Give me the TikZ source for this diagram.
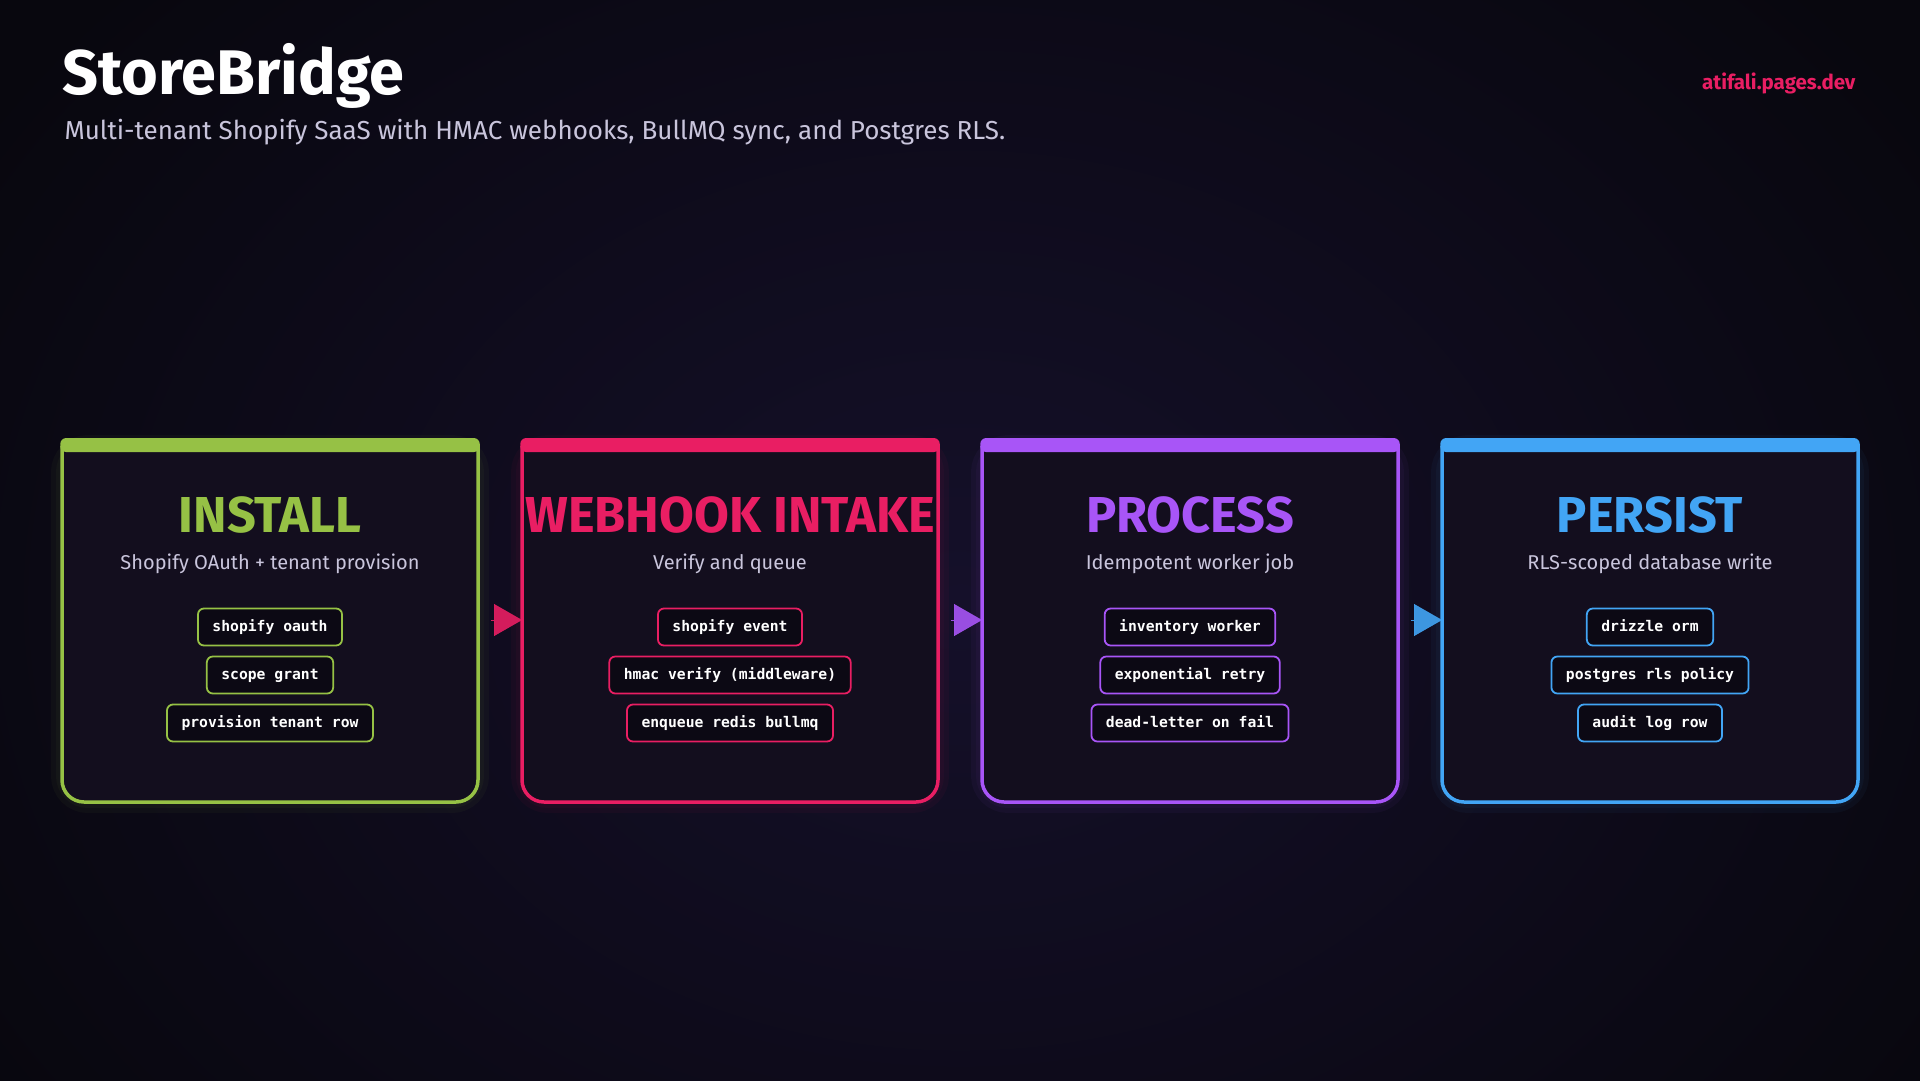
\documentclass[tikz,border=0pt]{standalone}
\usepackage{fontspec}
\setmainfont{Fira Sans}
\newfontfamily\chipfont{DejaVu Sans Mono}
\usepackage{tikz}
\usetikzlibrary{positioning, calc, arrows.meta}

\definecolor{bgedge}{HTML}{08070E}
\definecolor{bgmid}{HTML}{15102A}
\definecolor{cardbg}{HTML}{130E1E}
\definecolor{chipbg}{HTML}{0C0914}
\definecolor{subtext}{HTML}{C9C5DC}
\definecolor{stgreen}{HTML}{96C145}
\definecolor{stpink}{HTML}{E91E63}
\definecolor{stpurple}{HTML}{A855F7}
\definecolor{stblue}{HTML}{42A5F5}

\begin{document}
\begin{tikzpicture}[x=1pt,y=1pt,yscale=-1,xscale=1,
    card/.style={minimum width=416pt, minimum height=356pt, inner sep=0pt, outer sep=0pt},
    cardbody/.style={fill=cardbg, rounded corners=22pt},
    cardline/.style={line width=3.5pt, rounded corners=22pt},
    glow/.style={line width=#1, draw opacity=0.045, rounded corners=26pt},
    stagetitle/.style={anchor=base, font=\bfseries\fontsize{50.5}{58}\selectfont},
    stagesub/.style={anchor=base, text=subtext, font=\fontsize{20}{24}\selectfont},
    chip/.style={line width=1.8pt, rounded corners=6pt, fill=chipbg, text=white, minimum height=37pt, inner xsep=14.5pt, inner ysep=0pt, text height=11pt, text depth=3pt, font=\chipfont\bfseries\fontsize{14.7}{16}\selectfont},
    flow/.style={-{Triangle[length=28pt,width=32pt]}, line width=0.4pt, shorten <=13pt, draw opacity=0.9, fill opacity=0.9}]
        \useasboundingbox (0,0) rectangle (1920,1080);
        \fill[bgedge] (0,0) rectangle (1920,1080);
        \shade[inner color=bgmid, outer color=bgedge] (-200,-300) rectangle (2120,1500);

        \draw (59,94) node [anchor=base west, text=white, font=\bfseries\fontsize{63}{72}\selectfont] (brand) {StoreBridge};
        \draw (61,139) node [anchor=base west, text=subtext, font=\fontsize{26}{30}\selectfont] (tagline) {Multi-tenant Shopify SaaS with HMAC webhooks, BullMQ sync, and Postgres RLS.};
        \draw (1859,89) node [anchor=base east, text=stpink, font=\bfseries\fontsize{20.5}{24}\selectfont] (site) {atifali.pages.dev};

        \node[card] (install) at (270,624) {};
        \draw[glow=22pt, stgreen] (install.north west) rectangle (install.south east);
        \draw[glow=12pt, stgreen] (install.north west) rectangle (install.south east);
        \fill[cardbody] (install.north west) rectangle (install.south east);
        \fill[cardbg] (install.north west) rectangle (install.east);
        \draw[cardline, stgreen] (install.north west) -- (install.south west) -- (install.south east) -- (install.north east);
        \fill[stgreen, rounded corners=6pt] ($(install.north west)+(-1.75,-8)$) rectangle ($(install.north east)+(1.75,6)$);
        \node[stagetitle, text=stgreen] (installtitle) at (270,532) {INSTALL};
        \node[stagesub] (installsub) at (270,569) {Shopify OAuth + tenant provision};
        \node[chip, draw=stgreen] (oauth) at (270,627) {shopify oauth};
        \node[chip, draw=stgreen] (scope) at (270,675) {scope grant};
        \node[chip, draw=stgreen] (tenantrow) at (270,723) {provision tenant row};

        \node[card] (webhook) at (730,624) {};
        \draw[glow=22pt, stpink] (webhook.north west) rectangle (webhook.south east);
        \draw[glow=12pt, stpink] (webhook.north west) rectangle (webhook.south east);
        \fill[cardbody] (webhook.north west) rectangle (webhook.south east);
        \fill[cardbg] (webhook.north west) rectangle (webhook.east);
        \draw[cardline, stpink] (webhook.north west) -- (webhook.south west) -- (webhook.south east) -- (webhook.north east);
        \fill[stpink, rounded corners=6pt] ($(webhook.north west)+(-1.75,-8)$) rectangle ($(webhook.north east)+(1.75,6)$);
        \node[stagetitle, text=stpink] (webhooktitle) at (730,532) {WEBHOOK INTAKE};
        \node[stagesub] (webhooksub) at (730,569) {Verify and queue};
        \node[chip, draw=stpink] (event) at (730,627) {shopify event};
        \node[chip, draw=stpink] (hmac) at (730,675) {hmac verify (middleware)};
        \node[chip, draw=stpink] (enqueue) at (730,723) {enqueue redis bullmq};

        \node[card] (process) at (1190,624) {};
        \draw[glow=22pt, stpurple] (process.north west) rectangle (process.south east);
        \draw[glow=12pt, stpurple] (process.north west) rectangle (process.south east);
        \fill[cardbody] (process.north west) rectangle (process.south east);
        \fill[cardbg] (process.north west) rectangle (process.east);
        \draw[cardline, stpurple] (process.north west) -- (process.south west) -- (process.south east) -- (process.north east);
        \fill[stpurple, rounded corners=6pt] ($(process.north west)+(-1.75,-8)$) rectangle ($(process.north east)+(1.75,6)$);
        \node[stagetitle, text=stpurple] (processtitle) at (1190,532) {PROCESS};
        \node[stagesub] (processsub) at (1190,569) {Idempotent worker job};
        \node[chip, draw=stpurple] (worker) at (1190,627) {inventory worker};
        \node[chip, draw=stpurple] (retry) at (1190,675) {exponential retry};
        \node[chip, draw=stpurple] (deadletter) at (1190,723) {dead-letter on fail};

        \node[card] (persist) at (1650,624) {};
        \draw[glow=22pt, stblue] (persist.north west) rectangle (persist.south east);
        \draw[glow=12pt, stblue] (persist.north west) rectangle (persist.south east);
        \fill[cardbody] (persist.north west) rectangle (persist.south east);
        \fill[cardbg] (persist.north west) rectangle (persist.east);
        \draw[cardline, stblue] (persist.north west) -- (persist.south west) -- (persist.south east) -- (persist.north east);
        \fill[stblue, rounded corners=6pt] ($(persist.north west)+(-1.75,-8)$) rectangle ($(persist.north east)+(1.75,6)$);
        \node[stagetitle, text=stblue] (persisttitle) at (1650,532) {PERSIST};
        \node[stagesub] (persistsub) at (1650,569) {RLS-scoped database write};
        \node[chip, draw=stblue] (orm) at (1650,627) {drizzle orm};
        \node[chip, draw=stblue] (rls) at (1650,675) {postgres rls policy};
        \node[chip, draw=stblue] (auditrow) at (1650,723) {audit log row};

        \draw[flow, stpink] ([yshift=-4pt]install.east) -- ([yshift=-4pt]webhook.west);
        \draw[flow, stpurple] ([yshift=-4pt]webhook.east) -- ([yshift=-4pt]process.west);
        \draw[flow, stblue] ([yshift=-4pt]process.east) -- ([yshift=-4pt]persist.west);
    \end{tikzpicture}
\end{document}
